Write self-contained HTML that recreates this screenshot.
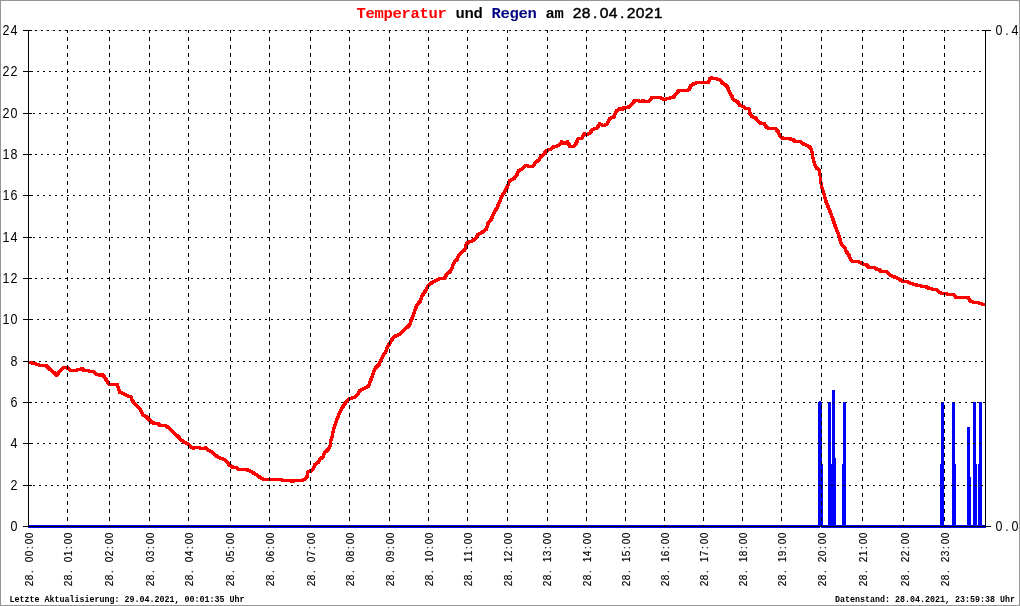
<!DOCTYPE html>
<html lang="de"><head><meta charset="utf-8"><title>Temperatur und Regen am 28.04.2021</title>
<style>html,body{margin:0;padding:0;background:#fff;overflow:hidden}svg{display:block}text{font-family:"Liberation Mono","DejaVu Sans Mono",monospace}.ls,.ls text{font-family:"Liberation Sans",Arial,sans-serif}text{white-space:pre}</style></head><body>
<svg width="1020" height="606" viewBox="0 0 1020 606">
<rect x="0" y="0" width="1020" height="606" fill="#fff"/>
<rect x="0.5" y="0.5" width="1019" height="605" fill="none" stroke="#969696" stroke-width="1" shape-rendering="crispEdges"/>
<g shape-rendering="crispEdges" fill="#0000ff">
<rect x="28" y="525" width="958" height="3"/>
<rect x="818" y="402" width="4" height="126"/>
<rect x="819" y="401" width="2" height="127"/>
<rect x="822" y="464" width="1" height="64"/>
<rect x="828" y="402" width="3" height="126"/>
<rect x="831" y="464" width="1" height="64"/>
<rect x="832" y="390" width="3" height="138"/>
<rect x="835" y="458" width="1" height="70"/>
<rect x="843" y="402" width="3" height="126"/>
<rect x="842" y="464" width="1" height="64"/>
<rect x="941" y="402" width="3" height="126"/>
<rect x="940" y="464" width="1" height="64"/>
<rect x="952" y="402" width="3" height="126"/>
<rect x="955" y="464" width="1" height="64"/>
<rect x="967" y="427" width="3" height="101"/>
<rect x="970" y="477" width="1" height="51"/>
<rect x="973" y="402" width="3" height="126"/>
<rect x="976" y="464" width="1" height="64"/>
<rect x="979" y="402" width="3" height="126"/>
<rect x="978" y="464" width="1" height="64"/>
</g>
<rect x="820" y="527" width="1" height="1" fill="#fff" shape-rendering="crispEdges"/>
<g shape-rendering="crispEdges" stroke="#000" stroke-width="1" fill="none">
<line x1="29" y1="30.5" x2="985" y2="30.5" stroke="#c8c8c8" stroke-dasharray="2 4" stroke-dashoffset="2"/>
<line x1="29" y1="485.5" x2="985" y2="485.5" stroke-dasharray="2 4" stroke-dashoffset="2"/>
<line x1="29" y1="443.5" x2="985" y2="443.5" stroke-dasharray="2 4" stroke-dashoffset="4"/>
<line x1="29" y1="402.5" x2="985" y2="402.5" stroke-dasharray="2 4" stroke-dashoffset="0"/>
<line x1="29" y1="361.5" x2="985" y2="361.5" stroke-dasharray="2 4" stroke-dashoffset="2"/>
<line x1="29" y1="319.5" x2="985" y2="319.5" stroke-dasharray="2 4" stroke-dashoffset="4"/>
<line x1="29" y1="278.5" x2="985" y2="278.5" stroke-dasharray="2 4" stroke-dashoffset="0"/>
<line x1="29" y1="237.5" x2="985" y2="237.5" stroke-dasharray="2 4" stroke-dashoffset="2"/>
<line x1="29" y1="195.5" x2="985" y2="195.5" stroke-dasharray="2 4" stroke-dashoffset="4"/>
<line x1="29" y1="154.5" x2="985" y2="154.5" stroke-dasharray="2 4" stroke-dashoffset="0"/>
<line x1="29" y1="113.5" x2="985" y2="113.5" stroke-dasharray="2 4" stroke-dashoffset="2"/>
<line x1="29" y1="71.5" x2="985" y2="71.5" stroke-dasharray="2 4" stroke-dashoffset="4"/>
<line x1="29" y1="30.5" x2="985" y2="30.5" stroke-dasharray="2 4" stroke-dashoffset="0"/>
</g>
<g shape-rendering="crispEdges" fill="#000">
<rect x="28" y="30" width="1" height="497"/>
<rect x="985" y="30" width="1" height="497"/>
<rect x="28" y="526" width="958" height="1"/>
<rect x="23" y="526" width="9" height="1"/>
<rect x="23" y="485" width="9" height="1"/>
<rect x="23" y="443" width="9" height="1"/>
<rect x="23" y="402" width="9" height="1"/>
<rect x="23" y="361" width="9" height="1"/>
<rect x="23" y="319" width="9" height="1"/>
<rect x="23" y="278" width="9" height="1"/>
<rect x="23" y="237" width="9" height="1"/>
<rect x="23" y="195" width="9" height="1"/>
<rect x="23" y="154" width="9" height="1"/>
<rect x="23" y="113" width="9" height="1"/>
<rect x="23" y="71" width="9" height="1"/>
<rect x="23" y="30" width="9" height="1"/>
<rect x="982" y="30" width="9" height="1"/>
<rect x="982" y="526" width="9" height="1"/>
</g>
<clipPath id="plot"><rect x="29" y="30" width="956" height="496"/></clipPath>
<g clip-path="url(#plot)" fill="none" stroke="#ff0000" stroke-width="1" stroke-linejoin="miter" stroke-linecap="butt" shape-rendering="crispEdges">
<path id="tc" d="M28.4 362.0 L32.9 363.3 L37.3 364.3 L39.8 365.6 L45.7 365.3 L48.7 368.3 L52.7 371.5 L56.8 375.2 L59.6 371.2 L62.6 368.3 L66.0 367.0 L68.0 368.3 L71.0 370.9 L74.0 370.2 L79.4 369.8 L82.4 368.3 L84.4 370.9 L88.3 370.5 L90.8 371.7 L93.8 371.9 L96.2 374.2 L99.2 375.2 L101.7 374.2 L104.2 376.7 L107.1 381.1 L109.1 384.4 L117.5 384.6 L118.9 389.9 L119.8 392.6 L122.3 393.0 L125.8 394.8 L128.3 396.3 L130.7 396.3 L132.2 400.7 L134.7 403.7 L137.2 406.2 L139.7 408.7 L141.6 412.1 L143.1 415.1 L146.6 417.1 L149.6 420.1 L151.5 422.0 L154.5 423.5 L158.0 423.7 L159.9 425.5 L164.4 426.0 L166.0 425.9 L169.5 428.4 L171.9 430.9 L174.9 433.9 L177.9 436.3 L180.8 439.8 L184.8 442.3 L188.3 444.3 L190.7 446.7 L193.2 448.2 L197.7 447.2 L202.6 448.7 L205.6 447.7 L208.6 450.7 L211.5 451.2 L214.0 454.2 L217.5 456.6 L220.4 458.1 L223.4 459.1 L226.4 461.1 L229.4 465.1 L233.3 467.5 L235.8 467.0 L238.3 469.0 L244.2 469.0 L249.2 470.5 L253.0 472.7 L255.4 474.2 L258.4 476.1 L260.9 478.1 L263.4 479.4 L269.8 479.6 L279.7 479.6 L283.7 480.4 L286.6 480.9 L289.6 480.3 L293.1 481.6 L296.0 480.1 L303.0 480.1 L305.4 478.6 L307.4 476.1 L307.9 472.2 L310.4 471.2 L313.4 468.7 L314.9 464.8 L318.3 462.3 L320.3 458.8 L323.3 456.8 L324.3 452.9 L328.2 449.4 L329.9 446.9 L330.4 441.5 L332.3 436.5 L333.3 430.6 L334.8 425.6 L336.3 420.7 L338.8 414.8 L341.2 409.8 L343.7 405.4 L346.7 401.4 L349.6 398.4 L354.6 397.4 L357.6 394.5 L359.9 390.4 L364.8 388.0 L368.3 386.5 L370.2 381.5 L372.2 376.6 L373.7 371.6 L376.2 367.2 L379.2 364.2 L381.1 359.8 L383.1 355.8 L385.6 351.8 L387.6 346.4 L390.1 342.9 L392.5 338.5 L394.9 336.2 L399.8 334.5 L402.3 331.5 L405.7 328.5 L409.7 325.1 L411.2 320.6 L413.2 315.6 L415.1 309.7 L417.1 304.8 L420.1 301.3 L422.1 295.8 L424.6 292.4 L426.5 288.9 L428.5 285.4 L429.9 283.9 L434.9 280.9 L439.9 278.5 L444.8 278.0 L446.8 274.0 L450.7 271.0 L453.2 264.6 L454.7 261.6 L457.2 259.2 L458.2 256.2 L462.1 251.7 L464.6 250.2 L465.6 246.3 L467.6 242.3 L472.5 240.8 L476.0 238.4 L477.5 234.9 L481.4 232.9 L486.4 229.0 L487.9 223.5 L491.3 219.0 L494.3 212.6 L497.3 207.1 L499.8 201.2 L501.7 196.2 L504.7 191.8 L507.7 186.3 L509.2 180.9 L514.1 178.4 L517.1 174.5 L518.4 171.0 L522.8 168.5 L525.8 165.1 L528.8 166.5 L533.2 166.0 L535.7 162.1 L539.2 160.1 L540.1 157.6 L543.6 154.2 L547.1 150.2 L550.5 149.2 L554.0 146.7 L558.5 145.7 L561.9 141.8 L564.4 143.8 L567.4 141.8 L569.9 146.2 L573.8 146.5 L576.3 143.3 L578.3 138.3 L581.7 138.3 L584.2 133.9 L587.2 134.4 L590.1 132.9 L592.1 129.9 L597.1 127.9 L599.5 124.0 L603.4 125.5 L607.4 124.0 L609.4 118.6 L613.8 117.1 L616.3 111.1 L619.8 108.7 L622.2 109.7 L624.2 107.2 L628.2 107.2 L631.6 104.7 L634.6 100.7 L637.6 100.5 L640.5 101.9 L643.0 100.7 L646.0 101.9 L649.5 100.9 L651.9 97.6 L660.4 97.6 L663.3 99.3 L667.3 98.8 L673.2 97.3 L676.2 93.8 L678.7 90.6 L684.1 91.0 L689.0 89.7 L690.9 85.7 L693.9 83.8 L697.4 82.3 L702.8 82.6 L708.3 82.3 L709.8 78.8 L711.7 77.8 L714.7 78.8 L719.6 79.3 L722.1 82.8 L726.6 85.7 L728.6 89.7 L730.0 93.2 L732.0 96.6 L733.5 99.6 L737.5 101.6 L739.5 105.0 L742.9 106.3 L745.4 108.5 L749.0 109.0 L750.0 113.4 L751.9 116.4 L755.4 117.9 L757.9 120.8 L760.8 123.3 L764.3 123.8 L766.8 127.8 L770.7 128.6 L775.2 128.3 L778.2 131.7 L779.6 135.7 L782.6 138.2 L788.6 138.5 L793.0 139.7 L795.0 141.4 L800.9 141.6 L802.4 143.6 L806.4 145.1 L809.4 146.6 L811.3 149.6 L812.3 153.5 L813.6 161.0 L814.8 164.9 L816.7 168.4 L819.2 169.9 L820.2 175.8 L820.9 182.8 L822.2 188.7 L824.2 194.7 L825.6 200.6 L827.6 205.5 L829.6 210.5 L831.6 215.4 L833.8 221.9 L835.8 227.9 L838.3 233.8 L839.8 238.8 L841.5 244.2 L844.7 247.7 L846.7 252.1 L849.2 255.6 L850.6 259.6 L853.1 261.8 L858.6 262.0 L861.5 263.0 L864.0 264.5 L866.5 265.0 L869.0 267.5 L874.4 267.3 L876.9 269.5 L879.4 269.9 L880.8 271.4 L884.4 271.1 L887.6 272.4 L890.9 275.7 L895.2 277.3 L899.6 279.5 L902.9 281.5 L906.7 281.1 L910.5 283.3 L914.9 284.4 L918.7 285.8 L925.8 286.6 L929.0 288.2 L932.8 289.3 L936.6 289.9 L939.4 292.6 L943.7 293.7 L948.6 294.2 L954.1 294.8 L956.2 297.7 L962.8 297.7 L968.2 297.5 L969.9 300.8 L973.7 302.1 L979.1 302.9 L982.9 304.2 L986.2 304.2"/>
<use href="#tc" x="-1" y="-1"/>
<use href="#tc" x="-1" y="0"/>
<use href="#tc" x="-1" y="1"/>
<use href="#tc" x="0" y="-1"/>
<use href="#tc" x="0" y="1"/>
<use href="#tc" x="1" y="-1"/>
<use href="#tc" x="1" y="0"/>
<use href="#tc" x="1" y="1"/>
</g>
<g shape-rendering="crispEdges" stroke="#000" stroke-width="1" fill="none">
<line x1="67.5" y1="30" x2="67.5" y2="527" stroke-dasharray="4 4" stroke-dashoffset="1"/>
<line x1="109.5" y1="30" x2="109.5" y2="527" stroke-dasharray="4 4" stroke-dashoffset="1"/>
<line x1="149.5" y1="30" x2="149.5" y2="527" stroke-dasharray="4 4" stroke-dashoffset="1"/>
<line x1="188.5" y1="30" x2="188.5" y2="527" stroke-dasharray="4 4" stroke-dashoffset="1"/>
<line x1="230.5" y1="30" x2="230.5" y2="527" stroke-dasharray="4 4" stroke-dashoffset="1"/>
<line x1="269.5" y1="30" x2="269.5" y2="527" stroke-dasharray="4 4" stroke-dashoffset="1"/>
<line x1="310.5" y1="30" x2="310.5" y2="527" stroke-dasharray="4 4" stroke-dashoffset="1"/>
<line x1="349.5" y1="30" x2="349.5" y2="527" stroke-dasharray="4 4" stroke-dashoffset="1"/>
<line x1="389.5" y1="30" x2="389.5" y2="527" stroke-dasharray="4 4" stroke-dashoffset="1"/>
<line x1="428.5" y1="30" x2="428.5" y2="527" stroke-dasharray="4 4" stroke-dashoffset="1"/>
<line x1="467.5" y1="30" x2="467.5" y2="527" stroke-dasharray="4 4" stroke-dashoffset="1"/>
<line x1="507.5" y1="30" x2="507.5" y2="527" stroke-dasharray="4 4" stroke-dashoffset="1"/>
<line x1="547.5" y1="30" x2="547.5" y2="527" stroke-dasharray="4 4" stroke-dashoffset="1"/>
<line x1="586.5" y1="30" x2="586.5" y2="527" stroke-dasharray="4 4" stroke-dashoffset="1"/>
<line x1="625.5" y1="30" x2="625.5" y2="527" stroke-dasharray="4 4" stroke-dashoffset="1"/>
<line x1="664.5" y1="30" x2="664.5" y2="527" stroke-dasharray="4 4" stroke-dashoffset="1"/>
<line x1="703.5" y1="30" x2="703.5" y2="527" stroke-dasharray="4 4" stroke-dashoffset="1"/>
<line x1="742.5" y1="30" x2="742.5" y2="527" stroke-dasharray="4 4" stroke-dashoffset="1"/>
<line x1="781.5" y1="30" x2="781.5" y2="527" stroke-dasharray="4 4" stroke-dashoffset="1"/>
<line x1="821.5" y1="30" x2="821.5" y2="527" stroke-dasharray="4 4" stroke-dashoffset="1"/>
<line x1="862.5" y1="30" x2="862.5" y2="527" stroke-dasharray="4 4" stroke-dashoffset="1"/>
<line x1="903.5" y1="30" x2="903.5" y2="527" stroke-dasharray="4 4" stroke-dashoffset="1"/>
<line x1="944.5" y1="30" x2="944.5" y2="527" stroke-dasharray="4 4" stroke-dashoffset="1"/>
</g>
<g class="ls" font-size="12.5" fill="#000" text-anchor="middle">
<text xml:space="preserve" transform="translate(0 531) scale(1 1.14)" x="14">0</text>
<text xml:space="preserve" transform="translate(0 490) scale(1 1.14)" x="14">2</text>
<text xml:space="preserve" transform="translate(0 448) scale(1 1.14)" x="14">4</text>
<text xml:space="preserve" transform="translate(0 407) scale(1 1.14)" x="14">6</text>
<text xml:space="preserve" transform="translate(0 366) scale(1 1.14)" x="14">8</text>
<text xml:space="preserve" transform="translate(0 324) scale(1 1.14)" x="6 14">10</text>
<text xml:space="preserve" transform="translate(0 283) scale(1 1.14)" x="6 14">12</text>
<text xml:space="preserve" transform="translate(0 242) scale(1 1.14)" x="6 14">14</text>
<text xml:space="preserve" transform="translate(0 200) scale(1 1.14)" x="6 14">16</text>
<text xml:space="preserve" transform="translate(0 159) scale(1 1.14)" x="6 14">18</text>
<text xml:space="preserve" transform="translate(0 118) scale(1 1.14)" x="6 14">20</text>
<text xml:space="preserve" transform="translate(0 76) scale(1 1.14)" x="6 14">22</text>
<text xml:space="preserve" transform="translate(0 35) scale(1 1.14)" x="6 14">24</text>
<text xml:space="preserve" transform="translate(0 35) scale(1 1.14)" x="999 1007 1015">0.4</text>
<text xml:space="preserve" transform="translate(0 531) scale(1 1.14)" x="999 1007 1015">0.0</text>
</g>
<g class="ls" font-size="10" fill="#000" stroke="#000" stroke-width="0.15" text-anchor="middle">
<text xml:space="preserve" transform="translate(33 586.5) rotate(-90) scale(1 1.1)" x="3 9 15 21 27 33 39 45 51">28. 00:00</text>
<text xml:space="preserve" transform="translate(72 586.5) rotate(-90) scale(1 1.1)" x="3 9 15 21 27 33 39 45 51">28. 01:00</text>
<text xml:space="preserve" transform="translate(113 586.5) rotate(-90) scale(1 1.1)" x="3 9 15 21 27 33 39 45 51">28. 02:00</text>
<text xml:space="preserve" transform="translate(154 586.5) rotate(-90) scale(1 1.1)" x="3 9 15 21 27 33 39 45 51">28. 03:00</text>
<text xml:space="preserve" transform="translate(193 586.5) rotate(-90) scale(1 1.1)" x="3 9 15 21 27 33 39 45 51">28. 04:00</text>
<text xml:space="preserve" transform="translate(234 586.5) rotate(-90) scale(1 1.1)" x="3 9 15 21 27 33 39 45 51">28. 05:00</text>
<text xml:space="preserve" transform="translate(274 586.5) rotate(-90) scale(1 1.1)" x="3 9 15 21 27 33 39 45 51">28. 06:00</text>
<text xml:space="preserve" transform="translate(315 586.5) rotate(-90) scale(1 1.1)" x="3 9 15 21 27 33 39 45 51">28. 07:00</text>
<text xml:space="preserve" transform="translate(354 586.5) rotate(-90) scale(1 1.1)" x="3 9 15 21 27 33 39 45 51">28. 08:00</text>
<text xml:space="preserve" transform="translate(394 586.5) rotate(-90) scale(1 1.1)" x="3 9 15 21 27 33 39 45 51">28. 09:00</text>
<text xml:space="preserve" transform="translate(433 586.5) rotate(-90) scale(1 1.1)" x="3 9 15 21 27 33 39 45 51">28. 10:00</text>
<text xml:space="preserve" transform="translate(472 586.5) rotate(-90) scale(1 1.1)" x="3 9 15 21 27 33 39 45 51">28. 11:00</text>
<text xml:space="preserve" transform="translate(512 586.5) rotate(-90) scale(1 1.1)" x="3 9 15 21 27 33 39 45 51">28. 12:00</text>
<text xml:space="preserve" transform="translate(551 586.5) rotate(-90) scale(1 1.1)" x="3 9 15 21 27 33 39 45 51">28. 13:00</text>
<text xml:space="preserve" transform="translate(591 586.5) rotate(-90) scale(1 1.1)" x="3 9 15 21 27 33 39 45 51">28. 14:00</text>
<text xml:space="preserve" transform="translate(630 586.5) rotate(-90) scale(1 1.1)" x="3 9 15 21 27 33 39 45 51">28. 15:00</text>
<text xml:space="preserve" transform="translate(669 586.5) rotate(-90) scale(1 1.1)" x="3 9 15 21 27 33 39 45 51">28. 16:00</text>
<text xml:space="preserve" transform="translate(708 586.5) rotate(-90) scale(1 1.1)" x="3 9 15 21 27 33 39 45 51">28. 17:00</text>
<text xml:space="preserve" transform="translate(747 586.5) rotate(-90) scale(1 1.1)" x="3 9 15 21 27 33 39 45 51">28. 18:00</text>
<text xml:space="preserve" transform="translate(786 586.5) rotate(-90) scale(1 1.1)" x="3 9 15 21 27 33 39 45 51">28. 19:00</text>
<text xml:space="preserve" transform="translate(826 586.5) rotate(-90) scale(1 1.1)" x="3 9 15 21 27 33 39 45 51">28. 20:00</text>
<text xml:space="preserve" transform="translate(867 586.5) rotate(-90) scale(1 1.1)" x="3 9 15 21 27 33 39 45 51">28. 21:00</text>
<text xml:space="preserve" transform="translate(909 586.5) rotate(-90) scale(1 1.1)" x="3 9 15 21 27 33 39 45 51">28. 22:00</text>
<text xml:space="preserve" transform="translate(949 586.5) rotate(-90) scale(1 1.1)" x="3 9 15 21 27 33 39 45 51">28. 23:00</text>
</g>
<text xml:space="preserve" transform="translate(0 18) scale(1 0.92)" font-size="15.5" font-weight="bold" text-anchor="middle" fill="#000" x="361.1 370.1 379.1 388.1 397.1 406.1 415.1 424.1 433.1 442.1 451.1 460.1 469.1 478.1 487.1 496.1 505.1 514.1 523.1 532.1 541.1 550.1 559.1 568.1"><tspan fill="#ff0000">Temperatur</tspan> und <tspan fill="#000080">Regen</tspan> am </text>
<text xml:space="preserve" class="ls" transform="translate(0 18) scale(1.16 1.06)" font-size="13.5" text-anchor="middle" fill="#000" stroke="#000" stroke-width="0.4" x="497.5 505.26 513.02 520.78 528.53 536.29 544.05 551.81 559.57 567.33">28.04.2021</text>
<g font-size="8.333" font-weight="bold" fill="#000" transform="translate(0 602) scale(1 1.0)">
<text xml:space="preserve" x="9.5">Letzte Aktualisierung: 29.04.2021, 00:01:35 Uhr</text>
<text xml:space="preserve" x="835">Datenstand: 28.04.2021, 23:59:38 Uhr</text>
</g>
</svg></body></html>
